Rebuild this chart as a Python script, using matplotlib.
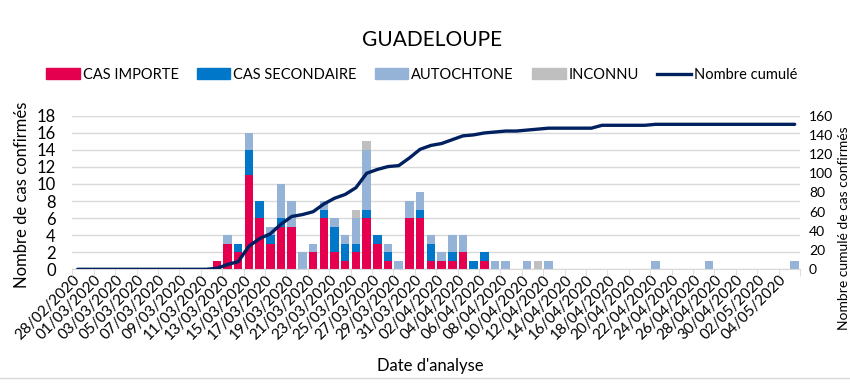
import numpy as np
import pandas as pd
import matplotlib
matplotlib.use("Agg")
import matplotlib.pyplot as plt
from matplotlib.lines import Line2D
from matplotlib.patches import Patch

plt.rcParams['font.family'] = ['Lato', 'DejaVu Sans']

# one category per day, 28/02/2020 -> 05/05/2020
dates = pd.date_range("2020-02-28", "2020-05-05").strftime("%d/%m/%Y").tolist()

importe = [0, 0, 0, 0, 0, 0, 0, 0, 0, 0,
           0, 0, 0, 1, 3, 2, 11, 6, 3, 5,
           5, 0, 2, 6, 2, 1, 2, 6, 3, 1,
           0, 6, 6, 1, 1, 1, 2, 0, 1, 0,
           0, 0, 0, 0, 0, 0, 0, 0, 0, 0,
           0, 0, 0, 0, 0, 0, 0, 0, 0, 0,
           0, 0, 0, 0, 0, 0, 0, 0]
secondaire = [0, 0, 0, 0, 0, 0, 0, 0, 0, 0,
              0, 0, 0, 0, 0, 1, 3, 2, 1, 1,
              0, 0, 0, 1, 3, 2, 1, 1, 1, 1,
              0, 0, 1, 2, 0, 1, 0, 1, 1, 0,
              0, 0, 0, 0, 0, 0, 0, 0, 0, 0,
              0, 0, 0, 0, 0, 0, 0, 0, 0, 0,
              0, 0, 0, 0, 0, 0, 0, 0]
autochtone = [0, 0, 0, 0, 0, 0, 0, 0, 0, 0,
              0, 0, 0, 0, 1, 0, 2, 0, 1, 4,
              3, 2, 1, 1, 1, 1, 3, 7, 0, 1,
              1, 2, 2, 1, 1, 2, 2, 0, 0, 1,
              1, 0, 1, 0, 1, 0, 0, 0, 0, 0,
              0, 0, 0, 0, 1, 0, 0, 0, 0, 1,
              0, 0, 0, 0, 0, 0, 0, 1]
inconnu = [0, 0, 0, 0, 0, 0, 0, 0, 0, 0,
           0, 0, 0, 0, 0, 0, 0, 0, 0, 0,
           0, 0, 0, 0, 0, 0, 1, 1, 0, 0,
           0, 0, 0, 0, 0, 0, 0, 0, 0, 0,
           0, 0, 0, 1, 0, 0, 0, 0, 0, 0,
           0, 0, 0, 0, 0, 0, 0, 0, 0, 0,
           0, 0, 0, 0, 0, 0, 0, 0]
cumul = [0, 0, 0, 0, 0, 0, 0, 0, 0, 0,
         0, 0, 0, 1, 5, 8, 24, 32, 37, 47,
         55, 57, 60, 68, 74, 78, 85, 100, 104, 107,
         108, 116, 125, 129, 131, 135, 139, 140, 142, 143,
         144, 144, 145, 146, 147, 147, 147, 147, 147, 150,
         150, 150, 150, 150, 151, 151, 151, 151, 151, 151,
         151, 151, 151, 151, 151, 151, 151, 151]

x = np.arange(len(dates))
c_imp, c_sec, c_aut, c_inc = '#E4004F', '#0077C8', '#95B3D7', '#BFBFBF'
c_line = '#002060'
grid_c = '#D9D9D9'

fig = plt.figure(figsize=(8.5, 3.86), dpi=100)
ax = fig.add_axes([0.0851, 0.3023, 0.8561, 0.398])

bottom = np.zeros(len(x))
for vals, col in [(importe, c_imp), (secondaire, c_sec), (autochtone, c_aut), (inconnu, c_inc)]:
    ax.bar(x, vals, bottom=bottom, width=0.8, color=col, zorder=2)
    bottom += np.array(vals)

ax.set_xlim(-0.5, len(x) - 0.5)
ax.set_ylim(0, 18)
ax.set_yticks(range(0, 19, 2))
ax.yaxis.grid(True, color=grid_c, lw=1)
ax.set_axisbelow(True)
ax.tick_params(axis='y', length=0, pad=12, labelsize=12)

ax.set_xticks(x[::2])
ax.set_xticklabels(dates[::2], rotation=45, ha='right', va='center',
                   rotation_mode='anchor', fontsize=11)
ax.tick_params(axis='x', which='major', length=0, pad=6)
ax.set_xticks(np.arange(-0.5, len(x), 2), minor=True)
ax.tick_params(axis='x', which='minor', length=5, color=grid_c)

for s in ['top', 'left', 'right']:
    ax.spines[s].set_visible(False)
ax.spines['bottom'].set_color(grid_c)

ax2 = ax.twinx()
ax2.plot(x, cumul, color=c_line, lw=2.4, solid_capstyle='round', zorder=3)
ax2.set_ylim(0, 160)
ax2.set_yticks(range(0, 161, 20))
ax2.tick_params(axis='y', length=0, pad=6.5, labelsize=10)
for lbl in ax2.get_yticklabels():
    lbl.set_ha('left')
for s in ['top', 'left', 'right', 'bottom']:
    ax2.spines[s].set_visible(False)

fig.text(0.508, 0.896, 'GUADELOUPE', ha='center', va='center', fontsize=15)
fig.text(0.026, 0.495, 'Nombre de cas confirmés', rotation=90, ha='center', va='center', fontsize=12)
fig.text(1.0, 0.145, 'Nombre cumulé de cas confirmés', rotation=90, ha='right', va='bottom', fontsize=10)
fig.text(0.506, 0.052, "Date d'analyse", ha='center', va='center', fontsize=12)

handles = [Patch(color=c_imp), Patch(color=c_sec), Patch(color=c_aut), Patch(color=c_inc),
           Line2D([], [], color=c_line, lw=2.4)]
labels = ['CAS IMPORTE', 'CAS SECONDAIRE', 'AUTOCHTONE', 'INCONNU', 'Nombre cumulé']
fig.legend(handles, labels, loc='center', bbox_to_anchor=(0.496, 0.806), ncol=5,
           frameon=False, fontsize=10.5, handlelength=2.3, handleheight=0.75,
           handletextpad=0.2, columnspacing=1.25)

fig.add_artist(Line2D([0, 1], [0.02, 0.02], color=grid_c, lw=1))

fig.savefig('out.png', dpi=100)
